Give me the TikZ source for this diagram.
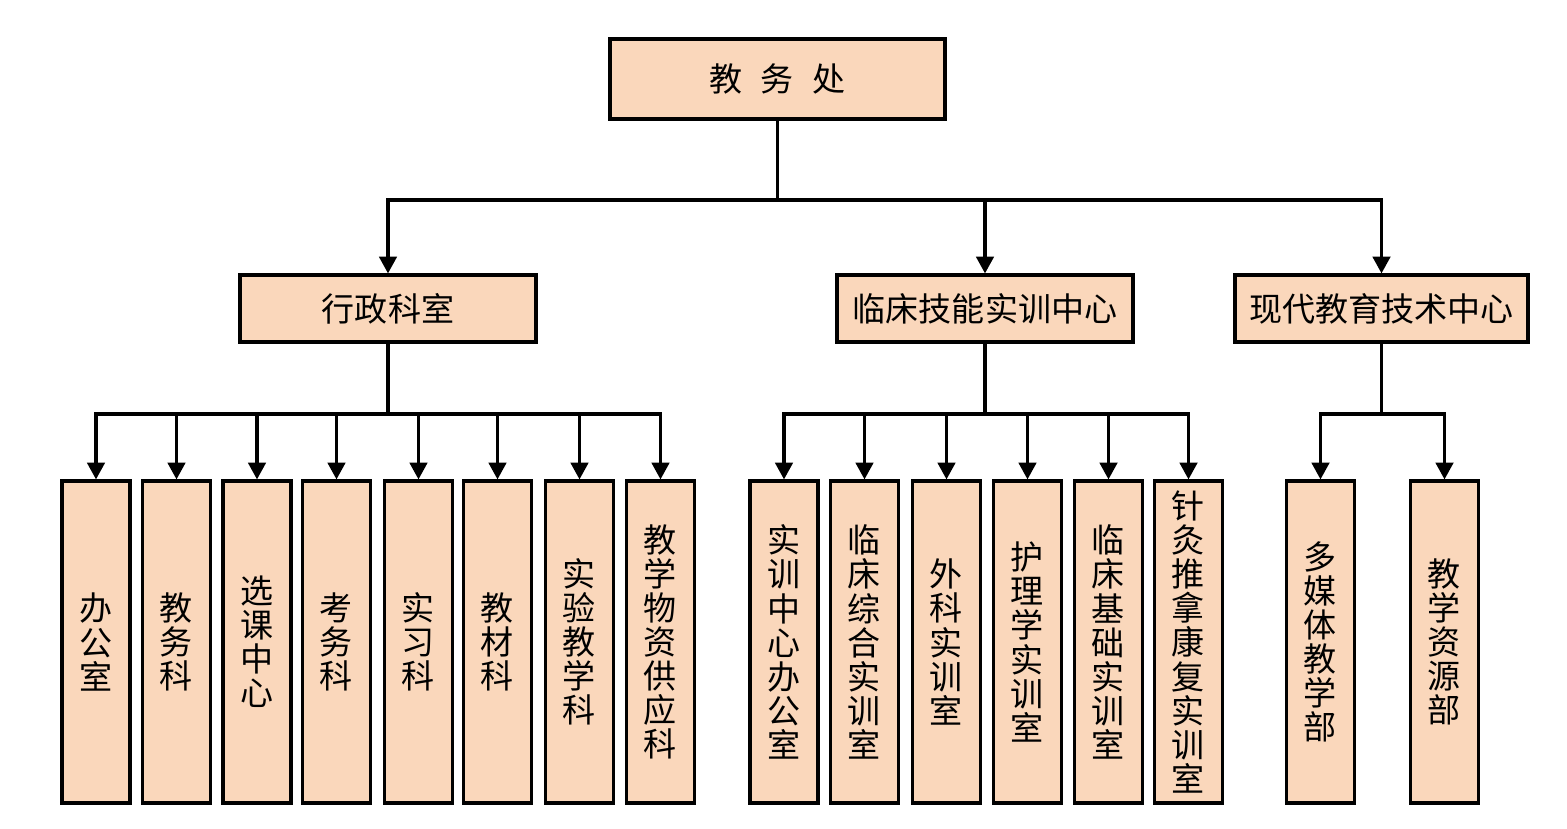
\documentclass[tikz,border=0pt]{standalone}
\usepackage{fontspec}
\setmainfont{Noto Sans CJK SC}
\usetikzlibrary{positioning,arrows.meta}
\definecolor{peach}{HTML}{FAD7BB}

\begin{document}
\begin{tikzpicture}[
    box/.style={draw, line width=0.9pt, fill=peach, inner sep=0pt, align=center, font=\fontsize{9.4}{9.7}\selectfont},
    topbox/.style={box, minimum width=3.35cm, minimum height=0.80cm},
    midbox/.style={box, minimum width=2.96cm, minimum height=0.67cm},
    leaf/.style={box, minimum width=0.68cm, minimum height=3.22cm},
    line/.style={line width=0.9pt},
    arr/.style={line, -{Triangle[width=5pt, length=4.8pt]}}
]
\useasboundingbox (0,0) rectangle (15.67,8.28);

% top level
\node[topbox] (office) at (7.775,7.49) {教\hspace{0.55em}务\hspace{0.55em}处};

% second level
\node[midbox] (admin) at (3.88,5.195)  {行政科室};
\node[midbox] (clinic) at (9.85,5.195) {临床技能实训中心};
\node[midbox, minimum width=2.93cm] (media) at (13.815,5.195) {现代教育技术中心};

% third level: admin
\node[leaf] (a1) at (0.96,1.86)  {办\\公\\室};
\node[leaf] (a2) at (1.765,1.86) {教\\务\\科};
\node[leaf] (a3) at (2.57,1.86)  {选\\课\\中\\心};
\node[leaf] (a4) at (3.365,1.86) {考\\务\\科};
\node[leaf] (a5) at (4.185,1.86) {实\\习\\科};
\node[leaf] (a6) at (4.975,1.86) {教\\材\\科};
\node[leaf] (a7) at (5.795,1.86) {实\\验\\教\\学\\科};
\node[leaf] (a8) at (6.605,1.86) {教\\学\\物\\资\\供\\应\\科};

% third level: clinic
\node[leaf] (c1) at (7.84,1.86)   {实\\训\\中\\心\\办\\公\\室};
\node[leaf] (c2) at (8.645,1.86)  {临\\床\\综\\合\\实\\训\\室};
\node[leaf] (c3) at (9.465,1.86)  {外\\科\\实\\训\\室};
\node[leaf] (c4) at (10.275,1.86) {护\\理\\学\\实\\训\\室};
\node[leaf] (c5) at (11.085,1.86) {临\\床\\基\\础\\实\\训\\室};
\node[leaf] (c6) at (11.885,1.86) {针\\灸\\推\\拿\\康\\复\\实\\训\\室};

% third level: media
\node[leaf] (m1) at (13.205,1.86) {多\\媒\\体\\教\\学\\部};
\node[leaf] (m2) at (14.445,1.86) {教\\学\\资\\源\\部};

% bus points
\coordinate (topbus) at (7.775,6.28);
\coordinate (adminbus) at (3.88,4.14);
\coordinate (clinicbus) at (9.85,4.14);
\coordinate (mediabus) at (13.815,4.14);

\draw[line] (office.south) -- (topbus);
\draw[arr] (topbus) -| (admin.north);
\draw[arr] (topbus) -| (clinic.north);
\draw[arr] (topbus) -| (media.north);

\draw[line] (admin.south) -- (adminbus);
\draw[arr] (adminbus) -| (a1.north);
\draw[arr] (adminbus) -| (a2.north);
\draw[arr] (adminbus) -| (a3.north);
\draw[arr] (adminbus) -| (a4.north);
\draw[arr] (adminbus) -| (a5.north);
\draw[arr] (adminbus) -| (a6.north);
\draw[arr] (adminbus) -| (a7.north);
\draw[arr] (adminbus) -| (a8.north);

\draw[line] (clinic.south) -- (clinicbus);
\draw[arr] (clinicbus) -| (c1.north);
\draw[arr] (clinicbus) -| (c2.north);
\draw[arr] (clinicbus) -| (c3.north);
\draw[arr] (clinicbus) -| (c4.north);
\draw[arr] (clinicbus) -| (c5.north);
\draw[arr] (clinicbus) -| (c6.north);

\draw[line] (media.south) -- (mediabus);
\draw[arr] (mediabus) -| (m1.north);
\draw[arr] (mediabus) -| (m2.north);
\end{tikzpicture}
\end{document}
